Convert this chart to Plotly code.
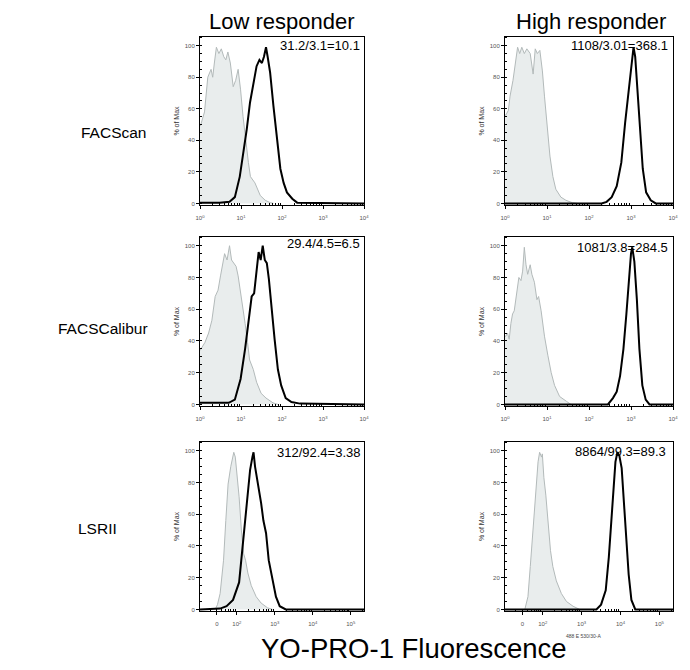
import numpy as np
import plotly.graph_objects as go

facscan_low_ctrl_x = [0.0, 0.02, 0.11, 0.19, 0.27, 0.31, 0.35, 0.40, 0.46, 0.52, 0.58, 0.63, 0.68, 0.74, 0.81,
                      0.87, 0.93, 0.99, 1.05, 1.12, 1.18, 1.23, 1.34, 1.47, 1.59, 1.71, 1.79]
facscan_low_ctrl_y = [49, 50, 58, 80, 85, 80, 89, 99, 95, 98, 93, 91, 96, 89, 74,
                      78, 85, 72, 55, 38, 26, 17, 13, 5, 2, 0.5, 0]
facscan_low_stain_x = [0.0, 0.48, 0.72, 0.85, 0.97, 1.05, 1.14, 1.22, 1.30, 1.38, 1.45, 1.51, 1.56, 1.61, 1.65,
                       1.71, 1.79, 1.88, 1.96, 2.04, 2.12, 2.25, 2.37, 4.0]
facscan_low_stain_y = [0.5, 0.5, 1, 4, 17, 30, 47, 64, 76, 87, 91, 89, 93, 99, 93,
                       83, 62, 41, 22, 13, 7, 3, 0.5, 0]

facscan_high_ctrl_x = [0.0, 0.02, 0.08, 0.12, 0.19, 0.24, 0.30, 0.35, 0.40, 0.46, 0.52, 0.60, 0.67, 0.72, 0.77,
                       0.83, 0.89, 0.94, 1.01, 1.07, 1.14, 1.21, 1.33, 1.45, 1.61, 1.73]
facscan_high_ctrl_y = [56, 56, 59, 68, 78, 88, 99, 95, 99, 95, 98, 95, 82, 98, 95,
                       97, 84, 68, 47, 30, 17, 9, 4, 2, 0.4, 0]
facscan_high_stain_x = [0.0, 2.30, 2.42, 2.54, 2.66, 2.77, 2.86, 2.94, 3.01, 3.06, 3.10, 3.15, 3.22, 3.28, 3.36,
                        3.47, 3.59, 4.0]
facscan_high_stain_y = [0, 0, 1, 4, 11, 26, 51, 72, 88, 99, 93, 74, 47, 22, 7,
                        2, 0, 0]

calibur_low_ctrl_x = [0.0, 0.02, 0.12, 0.21, 0.29, 0.37, 0.44, 0.50, 0.55, 0.60, 0.66, 0.72, 0.77, 0.83, 0.88,
                      0.93, 1.02, 1.10, 1.16, 1.21, 1.30, 1.38, 1.49, 1.61, 1.78, 1.90]
calibur_low_ctrl_y = [34, 35, 39, 45, 53, 68, 72, 81, 89, 95, 91, 100, 91, 89, 87,
                      81, 66, 51, 39, 28, 22, 14, 7, 4, 1, 0]
calibur_low_stain_x = [0.0, 0.70, 0.85, 0.99, 1.10, 1.18, 1.26, 1.32, 1.38, 1.43, 1.48, 1.53, 1.58, 1.63, 1.68,
                       1.74, 1.82, 1.90, 1.98, 2.09, 2.23, 2.44, 4.0]
calibur_low_stain_y = [1, 1, 3, 16, 35, 51, 68, 70, 87, 96, 91, 100, 91, 89, 79,
                       62, 41, 22, 12, 4, 1.5, 0.5, 0]

calibur_high_ctrl_x = [0.0, 0.02, 0.06, 0.10, 0.14, 0.18, 0.22, 0.28, 0.33, 0.38, 0.42, 0.46, 0.50, 0.54, 0.60,
                       0.64, 0.70, 0.76, 0.80, 0.86, 0.94, 1.02, 1.10, 1.18, 1.30, 1.46, 1.57]
calibur_high_ctrl_y = [43, 43, 45, 41, 51, 57, 59, 72, 80, 78, 84, 99, 88, 82, 88,
                       82, 77, 66, 68, 59, 43, 31, 20, 12, 5, 2, 0]
calibur_high_stain_x = [0.0, 2.45, 2.57, 2.66, 2.74, 2.82, 2.89, 2.95, 3.00, 3.03, 3.08, 3.14, 3.20, 3.27, 3.35,
                        3.44, 4.0]
calibur_high_stain_y = [0, 0, 4, 8, 18, 35, 57, 78, 95, 99, 90, 66, 35, 12, 3,
                        0, 0]

lsr_low_ctrl_x = [1.43, 1.49, 1.56, 1.65, 1.71, 1.77, 1.84, 1.89, 1.92, 1.96, 2.01, 2.06, 2.12, 2.18, 2.23,
                  2.29, 2.38, 2.51, 2.64, 2.81, 2.94]
lsr_low_ctrl_y = [0, 3, 10, 31, 56, 79, 90, 96, 99, 96, 85, 71, 50, 35, 31,
                  23, 15, 8, 4, 1, 0]
lsr_low_stain_x = [1.03, 1.56, 1.73, 1.90, 2.06, 2.16, 2.23, 2.29, 2.35, 2.41, 2.44, 2.48, 2.53, 2.58, 2.64,
                   2.70, 2.77, 2.84, 2.93, 3.03, 3.13, 3.29, 5.35]
lsr_low_stain_y = [0, 0.5, 2, 6, 17, 40, 56, 73, 88, 96, 99, 90, 83, 77, 67,
                   56, 48, 31, 19, 8, 2, 0, 0]

lsr_high_ctrl_x = [1.54, 1.62, 1.68, 1.75, 1.82, 1.88, 1.92, 1.97, 1.99, 2.03, 2.08, 2.14, 2.20, 2.26, 2.35,
                   2.48, 2.61, 2.78, 2.95]
lsr_high_ctrl_y = [0, 8, 27, 52, 74, 93, 99, 96, 98, 83, 72, 54, 37, 27, 18,
                   10, 5, 2, 0]
lsr_high_stain_x = [1.03, 3.38, 3.50, 3.62, 3.70, 3.77, 3.82, 3.87, 3.92, 3.97, 4.03, 4.08, 4.15, 4.21, 4.28,
                    4.38, 5.35]
lsr_high_stain_y = [0, 0, 3, 12, 33, 58, 79, 93, 99, 97, 89, 70, 45, 22, 6,
                    0, 0]

ratios = ["31.2/3.1=10.1", "1108/3.01=368.1",
          "29.4/4.5=6.5", "1081/3.8=284.5",
          "312/92.4=3.38", "8864/99.3=89.3"]
col_titles = ["Low responder", "High responder"]
row_titles = ["FACScan", "FACSCalibur", "LSRII"]
log_ticks = ["10<sup>0</sup>", "10<sup>1</sup>", "10<sup>2</sup>", "10<sup>3</sup>", "10<sup>4</sup>"]
biex_ticks = ["0", "10<sup>2</sup>", "10<sup>3</sup>", "10<sup>4</sup>", "10<sup>5</sup>"]
y_ticks = [0, 20, 40, 60, 80, 100]

panels = [
    (facscan_low_ctrl_x, facscan_low_ctrl_y, facscan_low_stain_x, facscan_low_stain_y),
    (facscan_high_ctrl_x, facscan_high_ctrl_y, facscan_high_stain_x, facscan_high_stain_y),
    (calibur_low_ctrl_x, calibur_low_ctrl_y, calibur_low_stain_x, calibur_low_stain_y),
    (calibur_high_ctrl_x, calibur_high_ctrl_y, calibur_high_stain_x, calibur_high_stain_y),
    (lsr_low_ctrl_x, lsr_low_ctrl_y, lsr_low_stain_x, lsr_low_stain_y),
    (lsr_high_ctrl_x, lsr_high_ctrl_y, lsr_high_stain_x, lsr_high_stain_y),
]

# page is 690x670 but the html body adds an 8px margin, so the figure is smaller and
# positions below are page pixels shifted by that offset
OFF = 8
W, H = 690 - OFF, 670 - OFF


def px_x(p):
    return (p - OFF) / W


def px_y(p):
    return 1 - (p - OFF) / H


col_px = [(200, 364), (505, 673)]
row_px = [(37, 205), (237, 406), (442, 611)]

# minor tick marks at 2..9 of every decade
minor_top = [m * 10.0 ** k for k in range(0, 4) for m in range(2, 10)]
minor_bot = [m * 10.0 ** k for k in range(1, 6) for m in range(2, 10)]

font = "Liberation Sans, Arial, sans-serif"
fig = go.Figure()
layout = {}

for i, (cx, cy, sx, sy) in enumerate(panels):
    r, c = divmod(i, 2)
    n = i + 1
    xa = "x" if n == 1 else f"x{n}"
    ya = "y" if n == 1 else f"y{n}"

    fig.add_trace(go.Scatter(x=np.power(10.0, cx), y=cy, mode="lines", fill="tozeroy",
                             fillcolor="#e9eded", line=dict(color="#b3baba", width=1),
                             xaxis=xa, yaxis=ya, showlegend=False))
    fig.add_trace(go.Scatter(x=np.power(10.0, sx), y=sy, mode="lines",
                             line=dict(color="black", width=2),
                             xaxis=xa, yaxis=ya, showlegend=False))

    x0, x1 = col_px[c]
    y0, y1 = row_px[r]
    if r < 2:
        xr = [0, 4]
        tv = [1, 10, 100, 1000, 10000]
        tt = log_ticks
        mv = minor_top
    else:
        xr = [1.03, 5.35]
        tv = [30, 100, 1000, 10000, 100000]
        tt = biex_ticks
        mv = minor_bot
    axis_common = dict(showline=True, linecolor="black", linewidth=1, mirror=True,
                       showgrid=False, zeroline=False, ticks="outside", ticklen=3,
                       automargin=False,
                       tickcolor="black", tickfont=dict(size=6, color="#555", family=font))
    layout["xaxis" if n == 1 else f"xaxis{n}"] = dict(
        domain=[px_x(x0), px_x(x1)], anchor=ya, type="log", range=xr,
        tickvals=tv, ticktext=tt, ticklabelstandoff=4,
        minor=dict(ticks="inside", ticklen=2, tickcolor="black", tickmode="array", tickvals=mv),
        **axis_common)
    layout["yaxis" if n == 1 else f"yaxis{n}"] = dict(
        domain=[px_y(y1), px_y(y0)], anchor=xa, range=[-1, 105.5],
        tickvals=y_ticks, minor=dict(ticks="inside", ticklen=2, tickcolor="black", dtick=5),
        title=dict(text="% of Max", font=dict(size=7, color="#333", family=font), standoff=4),
        **axis_common)

annotations = []
ratio_pos = [(362, 45), (670, 46), (362, 244), (670, 247), (363, 452), (668, 451)]
for t, (px, py) in zip(ratios, ratio_pos):
    annotations.append(dict(text=t, x=px_x(px), y=px_y(py), xref="paper", yref="paper",
                            xanchor="right", yanchor="middle", showarrow=False,
                            font=dict(size=13, color="black", family=font)))
for t, px in zip(col_titles, [282, 591]):
    annotations.append(dict(text=t, x=px_x(px), y=px_y(21), xref="paper", yref="paper",
                            xanchor="center", yanchor="middle", showarrow=False, borderpad=0,
                            font=dict(size=22, color="black", family=font)))
for t, (px, py) in zip(row_titles, [(113, 132), (103, 328), (97, 528)]):
    annotations.append(dict(text=t, x=px_x(px), y=px_y(py), xref="paper", yref="paper",
                            xanchor="center", yanchor="middle", showarrow=False,
                            font=dict(size=15.5, color="black", family=font)))
annotations.append(dict(text="YO-PRO-1 Fluorescence", x=px_x(414), y=px_y(648), xref="paper",
                        yref="paper", xanchor="center", yanchor="middle", showarrow=False,
                        font=dict(size=27.5, color="black", family=font)))
annotations.append(dict(text="488 E 530/30-A", x=px_x(583), y=px_y(636), xref="paper",
                        yref="paper", xanchor="center", yanchor="middle", showarrow=False,
                        font=dict(size=5, color="#444", family=font)))

fig.update_layout(width=W, height=H, margin=dict(l=0, r=0, t=0, b=0, autoexpand=False),
                  paper_bgcolor="white", plot_bgcolor="white",
                  annotations=annotations, **layout)

fig.write_html("out.html")
